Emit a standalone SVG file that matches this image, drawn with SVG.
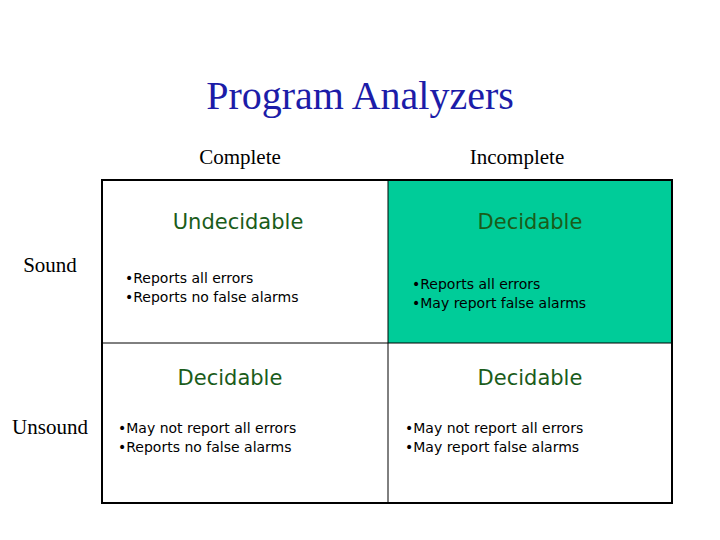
<svg xmlns="http://www.w3.org/2000/svg" width="720" height="540" viewBox="0 0 720 540">
<style>
.t{font-family:"Liberation Serif",serif;fill:#000}
.h{font-family:"DejaVu Sans","Liberation Sans",sans-serif;font-size:21px;fill:#1a5c1a;text-anchor:middle}
.b{font-family:"DejaVu Sans","Liberation Sans",sans-serif;font-size:14px;fill:#000}
.l{stroke:#000;fill:none}
</style>
<rect width="720" height="540" fill="#fff"/>
<text class="t" x="360" y="109" font-size="40" fill="#2020a0" style="fill:#1c1ca8" text-anchor="middle">Program Analyzers</text>
<text class="t" x="240" y="164" font-size="21" text-anchor="middle">Complete</text>
<text class="t" x="517" y="164" font-size="21" text-anchor="middle">Incomplete</text>
<text class="t" x="50" y="272" font-size="21" text-anchor="middle">Sound</text>
<text class="t" x="50" y="434" font-size="21" text-anchor="middle">Unsound</text>
<g id="connectors">
<rect x="388" y="180" width="284" height="163" fill="#00cc99"/>
<line class="l" x1="388" y1="180" x2="388" y2="503"/>
<line class="l" x1="102" y1="343" x2="672" y2="343"/>
<rect class="l" x="102" y="180" width="570" height="323" stroke-width="2"/>
</g>
<g id="cell-sound-complete">
<text class="h" x="238" y="229">Undecidable</text>
<text class="b" x="125" y="283">•Reports all errors</text>
<text class="b" x="125" y="302">•Reports no false alarms</text>
</g>
<g id="cell-sound-incomplete">
<text class="h" x="530" y="229">Decidable</text>
<text class="b" x="412" y="289">•Reports all errors</text>
<text class="b" x="412" y="308">•May report false alarms</text>
</g>
<g id="cell-unsound-complete">
<text class="h" x="230" y="385">Decidable</text>
<text class="b" x="118" y="433">•May not report all errors</text>
<text class="b" x="118" y="452">•Reports no false alarms</text>
</g>
<g id="cell-unsound-incomplete">
<text class="h" x="530" y="385">Decidable</text>
<text class="b" x="405" y="433">•May not report all errors</text>
<text class="b" x="405" y="452">•May report false alarms</text>
</g>
</svg>
